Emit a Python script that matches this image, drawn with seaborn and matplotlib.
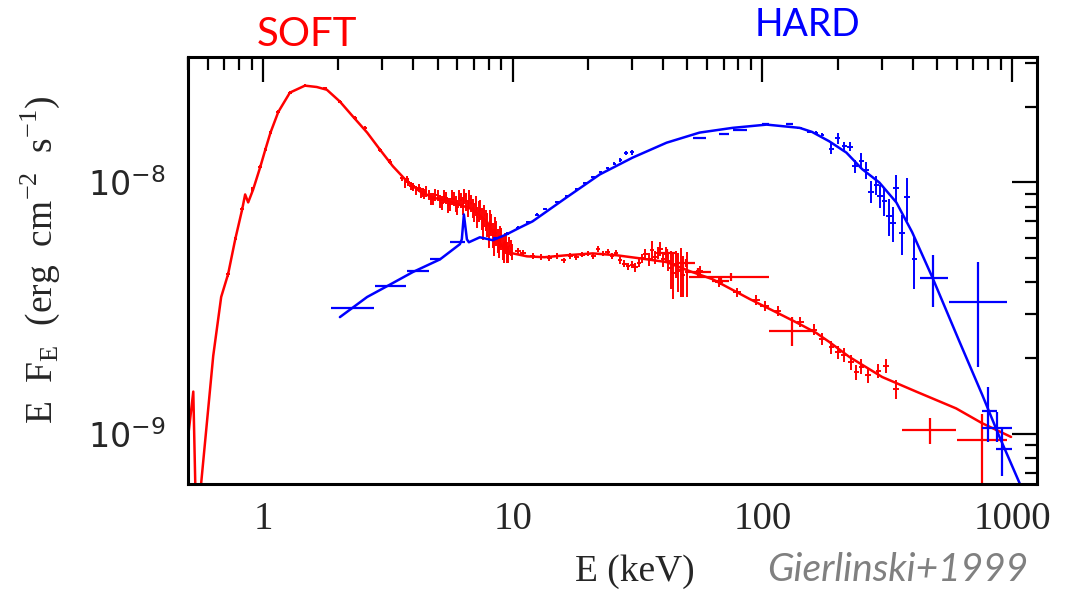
import numpy as np
import matplotlib
matplotlib.use("Agg")
import matplotlib.pyplot as plt
import seaborn as sns
from matplotlib.ticker import FixedLocator, FixedFormatter, LogLocator, NullFormatter

# Fluxes are given in units of 1e-9 erg cm^-2 s^-1, energies in keV.
FLUX_UNIT = 1e-9

# ---- soft state: model curve ----
soft_model_E = [0.501, 0.525, 0.540, 0.555, 0.565, 0.631, 0.679, 0.724, 0.773, 0.824,
                0.847, 0.871, 0.912, 0.973, 1.02, 1.07, 1.15, 1.28, 1.47, 1.64,
                1.80, 2.03, 2.29, 2.61, 2.94, 3.31, 3.77, 4.25, 4.79, 5.75,
                6.92, 7.87, 8.63, 9.29, 10.0, 11.4, 13.4, 16.4, 20.9, 26.1,
                32.2, 41.3, 51.0, 63.1, 88.7, 120, 141, 164, 185, 223,
                302, 413, 597, 759, 991]
soft_model_F = [0.98, 1.47, 0.40, 0.40, 0.64, 2.04, 3.50, 4.32, 5.94, 7.81,
                8.96, 8.33, 9.38, 11.5, 13.5, 15.8, 19.1, 22.8, 24.3, 24.0,
                23.4, 21.0, 18.3, 15.8, 13.5, 11.6, 10.1, 9.21, 8.71, 8.33,
                7.81, 7.00, 5.94, 5.42, 5.22, 5.08, 5.04, 5.13, 5.22, 5.13,
                4.99, 4.82, 4.44, 4.12, 3.44, 2.96, 2.73, 2.52, 2.32, 2.02,
                1.68, 1.47, 1.26, 1.10, 0.97]

# ---- soft state: data points with small symmetric errors ----
soft_pt_E = [0.724, 0.773, 0.824, 0.904, 0.973, 1.02, 1.07, 1.15, 1.28, 1.47,
             1.77, 2.03, 2.33, 2.56, 2.94, 3.22, 3.77, 3.98, 4.37,
             3.6, 3.8, 4.0, 4.2, 4.4, 4.6, 4.8, 5.0, 5.2, 5.4,
             5.6, 5.8, 6.0, 6.2, 6.4, 6.6, 6.8, 7.0, 7.2, 7.4,
             7.6, 7.8, 8.0, 8.2, 8.4, 8.6, 8.8, 9.0, 9.2, 9.4,
             9.6, 9.8,
             3.7, 3.9, 4.1, 4.3, 4.5, 4.7, 4.9, 5.1, 5.3, 5.5,
             5.7, 5.9, 6.1, 6.3, 6.5, 6.7, 6.9, 7.1, 7.3, 7.5,
             7.7, 7.9, 8.1, 8.3, 8.5, 8.7, 8.9, 9.1, 9.3, 9.5,
             9.7, 9.9,
             10.5, 11, 12, 13, 14, 15, 16, 17, 18, 19,
             20, 21, 22, 23, 24, 25, 26, 27, 28, 29,
             30, 31, 32, 33, 34, 35, 36, 37, 38, 39,
             40, 41, 42, 43, 44, 45, 46, 47, 48, 50,
             56.0, 67.3, 79.4, 94.6, 102, 115, 142, 161, 174, 189,
             201, 213, 227, 238, 249, 265, 291, 313, 344]
soft_pt_F = [4.32, 5.94, 7.81, 9.38, 11.5, 13.5, 15.8, 19.1, 22.8, 24.3,
             23.8, 21.0, 18.1, 16.5, 13.5, 12.1, 10.3, 9.64, 9.13,
             10.4, 10.0, 9.6, 9.5, 9.0, 8.9, 8.6, 8.9, 8.3, 8.7,
             8.2, 8.6, 8.0, 8.5, 8.8, 7.9, 8.3, 7.6, 7.3, 7.8,
             6.6, 7.1, 6.2, 6.8, 5.8, 6.3, 5.6, 6.0, 5.3, 5.7,
             5.2, 5.5,
             9.9, 9.7, 9.3, 9.1, 9.2, 8.6, 8.9, 8.4, 8.8, 8.1,
             8.7, 8.2, 8.7, 8.1, 8.4, 8.6, 7.9, 8.1, 7.7, 7.2,
             7.4, 6.8, 7.0, 6.2, 6.6, 5.9, 6.1, 5.5, 5.8, 5.3,
             5.6, 5.3,
             5.35, 5.25, 5.10, 5.05, 5.00, 5.10, 4.90, 5.10, 5.05, 5.15,
             5.20, 5.10, 5.45, 5.20, 5.30, 5.10, 5.25, 4.90, 4.75, 4.65,
             4.70, 4.60, 4.80, 5.00, 5.20, 4.95, 5.40, 5.05, 5.25, 5.45,
             4.95, 5.20, 4.85, 4.55, 4.35, 4.75, 4.45, 4.50, 4.30, 4.40,
             4.44, 4.01, 3.66, 3.40, 3.22, 3.08, 2.78, 2.59, 2.38, 2.21,
             2.11, 2.06, 1.93, 1.76, 1.85, 1.71, 1.78, 1.86, 1.50]
soft_pt_dE = [0.012, 0.012, 0.013, 0.014, 0.015, 0.016, 0.017, 0.02, 0.02, 0.025,
              0.03, 0.035, 0.04, 0.04, 0.05, 0.05, 0.06, 0.06, 0.07,
              0.08, 0.08, 0.08, 0.08, 0.08, 0.08, 0.08, 0.08, 0.08, 0.08,
              0.08, 0.08, 0.08, 0.08, 0.08, 0.08, 0.08, 0.08, 0.08, 0.08,
              0.08, 0.08, 0.08, 0.08, 0.08, 0.08, 0.08, 0.08, 0.08, 0.08,
              0.08, 0.08,
              0.05, 0.05, 0.05, 0.05, 0.05, 0.05, 0.05, 0.05, 0.05, 0.05,
              0.05, 0.05, 0.05, 0.05, 0.05, 0.05, 0.05, 0.05, 0.05, 0.05,
              0.05, 0.05, 0.05, 0.05, 0.05, 0.05, 0.05, 0.05, 0.05, 0.05,
              0.05, 0.05,
              0.25, 0.3, 0.3, 0.3, 0.3, 0.35, 0.35, 0.35, 0.4, 0.4,
              0.4, 0.45, 0.45, 0.45, 0.5, 0.5, 0.5, 0.5, 0.6, 0.6,
              0.6, 0.6, 0.6, 0.7, 0.7, 0.7, 0.7, 0.7, 0.8, 0.8,
              0.8, 0.8, 0.9, 0.9, 0.9, 0.9, 0.9, 1.0, 1.0, 1.0,
              2.0, 2.5, 3.0, 3.5, 4.0, 4.0, 5.0, 5.0, 5.0, 5.0,
              5.0, 6.0, 6.0, 6.0, 6.0, 7.0, 7.0, 8.0, 9.0]
soft_pt_dF = [0.10, 0.12, 0.15, 0.18, 0.2, 0.2, 0.25, 0.3, 0.3, 0.3,
              0.3, 0.3, 0.3, 0.3, 0.25, 0.25, 0.3, 0.3, 0.35,
              0.3, 0.3, 0.35, 0.35, 0.4, 0.4, 0.45, 0.45, 0.5, 0.5,
              0.5, 0.55, 0.55, 0.6, 0.6, 0.6, 0.65, 0.65, 0.7, 0.7,
              0.7, 0.7, 0.7, 0.7, 0.7, 0.7, 0.6, 0.6, 0.5, 0.5,
              0.4, 0.4,
              0.35, 0.35, 0.4, 0.4, 0.45, 0.45, 0.5, 0.5, 0.55, 0.55,
              0.6, 0.6, 0.65, 0.65, 0.7, 0.7, 0.7, 0.75, 0.75, 0.75,
              0.75, 0.75, 0.75, 0.7, 0.7, 0.65, 0.6, 0.6, 0.5, 0.5,
              0.45, 0.4,
              0.15, 0.12, 0.12, 0.12, 0.12, 0.12, 0.12, 0.12, 0.12, 0.12,
              0.12, 0.12, 0.15, 0.12, 0.15, 0.15, 0.15, 0.15, 0.15, 0.15,
              0.15, 0.2, 0.2, 0.2, 0.25, 0.3, 0.45, 0.3, 0.3, 0.35,
              0.35, 0.35, 0.4, 0.8, 0.9, 0.6, 0.8, 1.0, 0.8, 0.9,
              0.2, 0.18, 0.15, 0.15, 0.14, 0.14, 0.13, 0.13, 0.13, 0.13,
              0.13, 0.13, 0.13, 0.12, 0.13, 0.12, 0.12, 0.12, 0.13]

# ---- soft state: wide-bin points (asymmetric bounds) ----
soft_bin_E = [41.3, 49.2, 55.3, 75.0, 68.4, 131, 470, 759]
soft_bin_Elo = [38.8, 45.3, 49.7, 51.0, 62.6, 106, 363, 603]
soft_bin_Ehi = [44.6, 53.5, 62.0, 106, 73.8, 158, 597, 955]
soft_bin_F = [5.22, 4.77, 4.40, 4.20, 4.04, 2.56, 1.03, 0.94]
soft_bin_Flo = [5.00, 4.60, 4.25, 4.05, 3.90, 2.23, 0.91, 0.40]
soft_bin_Fhi = [5.45, 4.95, 4.55, 4.35, 4.20, 2.91, 1.15, 1.20]

# ---- hard state: model curve (with the Fe line near 6.4 keV) ----
hard_model_E = [2.03, 2.61, 3.13, 3.98, 5.11, 6.14, 6.25, 6.37, 6.55, 6.67,
                7.38, 8.32, 9.46, 10.7, 12.0, 16.4, 22.3, 30.2, 41.3, 56.0,
                75.9, 104, 141, 158, 185, 217, 251, 294, 344, 398,
                479, 614, 759, 887, 1117]
hard_model_F = [2.91, 3.50, 3.86, 4.40, 4.94, 5.68, 5.94, 7.46, 5.94, 5.78,
                6.05, 5.89, 6.22, 6.62, 7.00, 8.71, 10.76, 12.56, 14.4, 15.8,
                16.5, 17.0, 16.5, 15.9, 14.6, 13.15, 11.3, 10.0, 8.33, 6.34,
                4.20, 2.34, 1.43, 0.98, 0.578]

# ---- hard state: data points with small symmetric errors ----
hard_pt_E = [8.5, 9.5, 10.5, 11.5, 12.5, 13.5, 15.0, 16.5, 18.0, 19.5,
             21.0, 22.5, 24.0, 25.5, 27.0, 28.5, 30.0,
             141, 154, 164, 174,
             189, 200, 213, 225, 235, 249, 261, 273, 286, 297,
             308, 322, 334, 344, 363, 380, 406]
hard_pt_F = [6.0, 6.25, 6.6, 6.95, 7.45, 7.85, 8.35, 8.8, 9.4, 9.95,
             10.5, 11.0, 11.4, 11.9, 12.3, 13.1, 13.2,
             16.5, 15.9, 15.8, 15.5,
             13.65, 15.0, 14.0, 13.9, 11.6, 12.2, 11.2, 9.2, 9.8, 8.85,
             8.45, 7.35, 6.9, 9.55, 6.3, 8.75, 4.95]
hard_pt_dE = [0.15, 0.15, 0.2, 0.2, 0.2, 0.25, 0.25, 0.3, 0.3, 0.3,
              0.35, 0.35, 0.4, 0.4, 0.4, 0.5, 0.5,
              3, 3, 3, 3,
              5, 5, 5, 6, 6, 6, 7, 7, 7, 8,
              8, 8, 9, 9, 9, 10, 10]
hard_pt_dF = [0.08, 0.08, 0.08, 0.08, 0.1, 0.1, 0.1, 0.1, 0.12, 0.12,
              0.12, 0.15, 0.15, 0.15, 0.2, 0.25, 0.3,
              0.15, 0.2, 0.2, 0.2,
              0.7, 0.8, 0.5, 0.55, 0.65, 0.85, 0.85, 0.9, 0.85, 0.9,
              1.1, 1.25, 1.1, 1.2, 1.15, 1.7, 1.2]

# ---- hard state: wide-bin points (asymmetric bounds) ----
hard_bin_E = [2.27, 3.22, 4.17, 4.88, 5.97, 56.0, 70.5, 81.0, 103, 128,
              483, 731, 802, 870, 912]
hard_bin_Elo = [1.87, 2.81, 3.77, 4.66, 5.60, 52.5, 67.3, 75.9, 100, 124,
                429, 560, 759, 759, 861]
hard_bin_Ehi = [2.78, 3.73, 4.62, 5.16, 6.43, 59.6, 73.8, 86.5, 106, 132,
                555, 955, 870, 1000, 1000]
hard_bin_F = [3.16, 3.86, 4.44, 4.94, 5.78, 15.1, 15.6, 16.2, 17.1, 17.1,
              4.16, 3.34, 1.23, 1.05, 0.871]
hard_bin_Flo = [3.16, 3.86, 4.44, 4.94, 5.78, 15.1, 15.6, 16.2, 17.1, 17.1,
                3.19, 1.85, 0.93, 0.93, 0.68]
hard_bin_Fhi = [3.16, 3.86, 4.44, 4.94, 5.78, 15.1, 15.6, 16.2, 17.1, 17.1,
                5.13, 4.82, 1.54, 1.22, 1.05]

x_tick_values = [1, 10, 100, 1000]
x_tick_labels = ["1", "10", "100", "1000"]
y_tick_values = [1e-9, 1e-8]
y_tick_labels = [r"$\mathsf{10^{-9}}$", r"$\mathsf{10^{-8}}$"]

SOFT_COLOR = "#ff0000"
HARD_COLOR = "#0000ff"

sns.set_theme(style="white")
plt.rcParams["font.family"] = ["Liberation Serif", "DejaVu Serif"]
plt.rcParams["mathtext.fontset"] = "custom"
plt.rcParams["mathtext.rm"] = "Liberation Serif"
plt.rcParams["mathtext.sf"] = "DejaVu Sans"
plt.rcParams["axes.unicode_minus"] = True

W, H = 1076, 595
fig = plt.figure(figsize=(W / 100, H / 100), dpi=100)
fig.patch.set_facecolor("white")
ax = fig.add_axes([188 / W, 1 - 484 / H, (1037 - 188) / W, (484 - 57) / H])
ax.set_facecolor("white")
ax.set_xscale("log")
ax.set_yscale("log")


def draw_model(E, F, color):
    sns.lineplot(x=np.asarray(E), y=np.asarray(F) * FLUX_UNIT, ax=ax, color=color,
                 linewidth=1.8, estimator=None, sort=False, legend=False)


def draw_symmetric(E, F, dE, dF, color):
    ax.errorbar(E, np.asarray(F) * FLUX_UNIT, xerr=dE,
                yerr=np.asarray(dF) * FLUX_UNIT, fmt="none",
                ecolor=color, elinewidth=1.4, capsize=0)


def draw_bins(E, Elo, Ehi, F, Flo, Fhi, color):
    E = np.asarray(E); F = np.asarray(F) * FLUX_UNIT
    xerr = [E - np.asarray(Elo), np.asarray(Ehi) - E]
    yerr = [F - np.asarray(Flo) * FLUX_UNIT, np.asarray(Fhi) * FLUX_UNIT - F]
    ax.errorbar(E, F, xerr=xerr, yerr=yerr, fmt="none",
                ecolor=color, elinewidth=1.6, capsize=0)


# soft state first, hard state on top
draw_model(soft_model_E, soft_model_F, SOFT_COLOR)
draw_symmetric(soft_pt_E, soft_pt_F, soft_pt_dE, soft_pt_dF, SOFT_COLOR)
draw_bins(soft_bin_E, soft_bin_Elo, soft_bin_Ehi, soft_bin_F, soft_bin_Flo, soft_bin_Fhi, SOFT_COLOR)

draw_model(hard_model_E, hard_model_F, HARD_COLOR)
draw_symmetric(hard_pt_E, hard_pt_F, hard_pt_dE, hard_pt_dF, HARD_COLOR)
draw_bins(hard_bin_E, hard_bin_Elo, hard_bin_Ehi, hard_bin_F, hard_bin_Flo, hard_bin_Fhi, HARD_COLOR)

ax.set_xlim(0.5, 1259)
ax.set_ylim(6.3e-10, 3.16e-8)

ax.xaxis.set_major_locator(FixedLocator(x_tick_values))
ax.xaxis.set_major_formatter(FixedFormatter(x_tick_labels))
ax.xaxis.set_minor_locator(LogLocator(base=10, subs=np.arange(2, 10), numticks=30))
ax.xaxis.set_minor_formatter(NullFormatter())
ax.yaxis.set_major_locator(FixedLocator(y_tick_values))
ax.yaxis.set_major_formatter(FixedFormatter(y_tick_labels))
ax.yaxis.set_minor_locator(LogLocator(base=10, subs=np.arange(2, 10), numticks=30))
ax.yaxis.set_minor_formatter(NullFormatter())

ax.tick_params(which="both", direction="in", top=True, right=True,
               color="black", width=1.6)
ax.tick_params(which="major", length=18)
ax.tick_params(which="minor", length=9)
ax.tick_params(axis="x", which="major", labelsize=28, pad=12)
ax.tick_params(axis="y", which="major", labelsize=24, pad=16)
for spine in ax.spines.values():
    spine.set_visible(True)
    spine.set_color("black")
    spine.set_linewidth(2.2)

ax.set_xlabel("E (keV)", fontsize=27)
ax.xaxis.set_label_coords((635 - 188) / 849, (484 - 572) / 427)
ax.xaxis.label.set_va("center")
ax.set_ylabel(r"E  F$_{\mathrm{E}}$  (erg  cm$^{-2}$  s$^{-1}$)", fontsize=27)
ax.yaxis.set_label_coords((40 - 188) / 849, (484 - 260) / 427)
ax.yaxis.label.set_va("center")

fig.text(307 / W, 1 - 35 / H, "SOFT", color=SOFT_COLOR, fontsize=29,
         family=["Lato", "DejaVu Sans"], ha="center", va="center")
fig.text(807 / W, 1 - 25 / H, "HARD", color=HARD_COLOR, fontsize=27,
         family=["Lato", "DejaVu Sans"], ha="center", va="center")
fig.text(898 / W, 1 - 570 / H, "Gierlinski+1999", color="#808080", fontsize=28,
         family=["Lato", "DejaVu Sans"], style="italic", ha="center", va="center")

fig.savefig("out.png", dpi=100, facecolor="white")
